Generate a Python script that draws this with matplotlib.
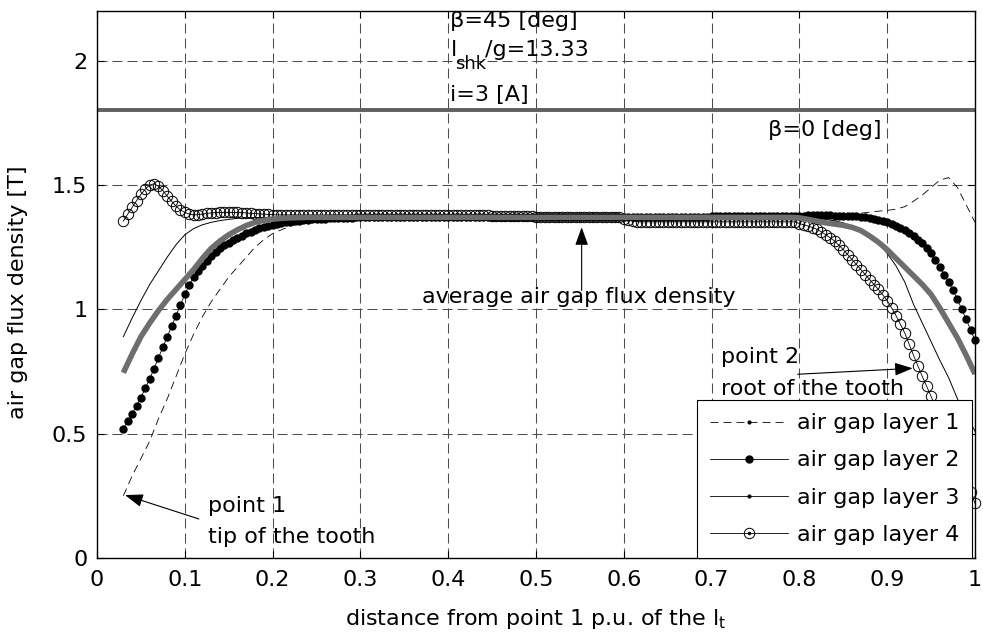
import numpy as np
import matplotlib
matplotlib.use('Agg')
import matplotlib.pyplot as plt
from matplotlib.lines import Line2D

plt.rcParams['font.family'] = ['DejaVu Sans']
plt.rcParams['mathtext.fontset'] = 'dejavusans'

# sampling positions (p.u. of tooth length)
x_pu = np.round(np.arange(3, 101) / 100.0, 2)          # 0.01 step
x_fine = np.round(np.arange(30, 1001, 5) / 1000.0, 3)  # 0.005 step (marker series)

layer1 = [0.25, 0.33, 0.40, 0.47, 0.56, 0.64, 0.73,
          0.82, 0.90, 0.97, 1.03, 1.08, 1.13, 1.17, 1.21, 1.25, 1.28,
          1.305, 1.32, 1.335, 1.345, 1.352, 1.358, 1.362, 1.365, 1.367, 1.368,
          1.369, 1.37, 1.37, 1.37, 1.37, 1.37, 1.37, 1.37, 1.37, 1.37,
          1.37, 1.37, 1.37, 1.37, 1.37, 1.37, 1.37, 1.37, 1.37, 1.37,
          1.37, 1.37, 1.37, 1.37, 1.37, 1.37, 1.37, 1.37, 1.37, 1.37,
          1.37, 1.37, 1.37, 1.37, 1.37, 1.37, 1.37, 1.37, 1.37, 1.37,
          1.37, 1.37, 1.37, 1.37, 1.37, 1.371, 1.371, 1.371, 1.372, 1.372,
          1.372, 1.373, 1.374, 1.375, 1.377, 1.38, 1.383, 1.387, 1.391, 1.395,
          1.398, 1.403, 1.413, 1.435, 1.46, 1.49, 1.52, 1.53, 1.49, 1.42,
          1.35]

layer2 = [0.52, 0.55, 0.58, 0.612, 0.645, 0.682, 0.72, 0.762, 0.805, 0.848,
          0.89, 0.932, 0.975, 1.018, 1.06, 1.098, 1.13, 1.155, 1.175, 1.196,
          1.215, 1.231, 1.245, 1.257, 1.268, 1.278, 1.288, 1.297, 1.306, 1.313,
          1.32, 1.326, 1.332, 1.337, 1.341, 1.345, 1.348, 1.351, 1.353, 1.355,
          1.357, 1.359, 1.36, 1.362, 1.363, 1.364, 1.365, 1.366, 1.367, 1.368,
          1.368, 1.369, 1.369, 1.37, 1.37, 1.37, 1.37, 1.37, 1.37, 1.37,
          1.37, 1.37, 1.37, 1.37, 1.37, 1.37, 1.37, 1.37, 1.37, 1.37,
          1.37, 1.37, 1.37, 1.37, 1.37, 1.37, 1.37, 1.37, 1.37, 1.37,
          1.37, 1.37, 1.37, 1.37, 1.37, 1.37, 1.37, 1.37, 1.37, 1.37,
          1.37, 1.37, 1.37, 1.37, 1.37, 1.37, 1.37, 1.37, 1.37, 1.37,
          1.37, 1.37, 1.37, 1.37, 1.37, 1.37, 1.37, 1.37, 1.37, 1.37,
          1.37, 1.37, 1.37, 1.37, 1.372, 1.372, 1.372, 1.372, 1.372, 1.372,
          1.372, 1.372, 1.372, 1.372, 1.372, 1.372, 1.372, 1.372, 1.372, 1.372,
          1.372, 1.372, 1.372, 1.372, 1.375, 1.375, 1.375, 1.375, 1.375, 1.375,
          1.375, 1.375, 1.375, 1.375, 1.375, 1.375, 1.375, 1.375, 1.375, 1.375,
          1.375, 1.375, 1.375, 1.375, 1.377, 1.377, 1.378, 1.378, 1.378, 1.378,
          1.378, 1.378, 1.377, 1.377, 1.376, 1.376, 1.375, 1.374, 1.373, 1.371,
          1.368, 1.364, 1.36, 1.355, 1.35, 1.343, 1.335, 1.327, 1.318, 1.307,
          1.295, 1.28, 1.265, 1.248, 1.228, 1.20, 1.17, 1.14, 1.11, 1.076,
          1.04, 1.00, 0.96, 0.918, 0.875]

layer3 = [0.89, 0.965, 1.035, 1.10, 1.155, 1.21, 1.26,
          1.30, 1.325, 1.34, 1.35, 1.357, 1.362, 1.366, 1.368, 1.369, 1.37,
          1.37, 1.37, 1.37, 1.37, 1.37, 1.37, 1.37, 1.37, 1.37, 1.37,
          1.37, 1.37, 1.37, 1.37, 1.37, 1.37, 1.37, 1.37, 1.37, 1.37,
          1.37, 1.37, 1.37, 1.37, 1.37, 1.37, 1.37, 1.37, 1.37, 1.37,
          1.37, 1.37, 1.37, 1.37, 1.37, 1.37, 1.37, 1.37, 1.37, 1.37,
          1.37, 1.37, 1.37, 1.37, 1.37, 1.37, 1.37, 1.37, 1.37, 1.37,
          1.37, 1.37, 1.37, 1.37, 1.37, 1.37, 1.37, 1.37, 1.37, 1.37,
          1.37, 1.368, 1.366, 1.362, 1.356, 1.348, 1.335, 1.315, 1.29, 1.265,
          1.225, 1.175, 1.11, 1.02, 0.945, 0.87, 0.795, 0.725, 0.64, 0.575,
          0.51]

layer4 = [1.355, 1.383, 1.41, 1.437, 1.462, 1.484, 1.50, 1.505, 1.495, 1.478,
          1.455, 1.435, 1.415, 1.40, 1.39, 1.383, 1.38, 1.381, 1.383, 1.386,
          1.388, 1.389, 1.39, 1.39, 1.39, 1.39, 1.39, 1.389, 1.388, 1.386,
          1.385, 1.384, 1.383, 1.382, 1.381, 1.38, 1.38, 1.38, 1.38, 1.38,
          1.38, 1.38, 1.38, 1.38, 1.38, 1.38, 1.38, 1.38, 1.38, 1.38,
          1.38, 1.38, 1.38, 1.38, 1.38, 1.38, 1.38, 1.38, 1.38, 1.38,
          1.38, 1.38, 1.38, 1.38, 1.38, 1.38, 1.38, 1.38, 1.38, 1.38,
          1.38, 1.38, 1.38, 1.38, 1.378, 1.378, 1.378, 1.378, 1.378, 1.378,
          1.378, 1.378, 1.378, 1.378, 1.375, 1.375, 1.375, 1.375, 1.375, 1.375,
          1.375, 1.375, 1.375, 1.375, 1.372, 1.372, 1.372, 1.372, 1.372, 1.372,
          1.372, 1.372, 1.372, 1.372, 1.372, 1.372, 1.372, 1.372, 1.372, 1.372,
          1.372, 1.372, 1.372, 1.372, 1.365, 1.36, 1.355, 1.352, 1.352, 1.352,
          1.352, 1.352, 1.352, 1.352, 1.352, 1.352, 1.352, 1.352, 1.352, 1.352,
          1.352, 1.352, 1.352, 1.352, 1.352, 1.352, 1.352, 1.352, 1.352, 1.352,
          1.352, 1.352, 1.352, 1.352, 1.352, 1.352, 1.352, 1.352, 1.352, 1.352,
          1.352, 1.352, 1.352, 1.352, 1.345, 1.34, 1.335, 1.329, 1.322, 1.312,
          1.30, 1.288, 1.275, 1.258, 1.24, 1.22, 1.20, 1.18, 1.16, 1.14,
          1.12, 1.10, 1.08, 1.058, 1.035, 1.006, 0.975, 0.94, 0.905, 0.86,
          0.815, 0.772, 0.73, 0.69, 0.65, 0.607, 0.565, 0.522, 0.48, 0.437,
          0.395, 0.352, 0.31, 0.265, 0.22]

average = [0.745, 0.82, 0.89, 0.945, 0.995, 1.04, 1.08,
           1.12, 1.16, 1.205, 1.245, 1.275, 1.30, 1.32, 1.337, 1.35, 1.358,
           1.363, 1.366, 1.368, 1.369, 1.37, 1.37, 1.37, 1.37, 1.37, 1.37,
           1.37, 1.37, 1.37, 1.37, 1.37, 1.37, 1.37, 1.37, 1.37, 1.37,
           1.37, 1.37, 1.37, 1.37, 1.37, 1.37, 1.37, 1.37, 1.37, 1.37,
           1.37, 1.37, 1.37, 1.37, 1.37, 1.37, 1.37, 1.37, 1.37, 1.37,
           1.37, 1.37, 1.37, 1.37, 1.37, 1.37, 1.37, 1.37, 1.37, 1.37,
           1.37, 1.37, 1.37, 1.37, 1.37, 1.37, 1.37, 1.37, 1.37, 1.37,
           1.368, 1.362, 1.355, 1.348, 1.343, 1.338, 1.33, 1.317, 1.295, 1.27,
           1.24, 1.205, 1.17, 1.135, 1.10, 1.06, 1.005, 0.945, 0.885, 0.815,
           0.74]

beta0_level = 1.8

legend_labels = ['air gap layer 1', 'air gap layer 2', 'air gap layer 3', 'air gap layer 4']
x_ticks = [0, 0.1, 0.2, 0.3, 0.4, 0.5, 0.6, 0.7, 0.8, 0.9, 1]
x_ticklabels = ['0', '0.1', '0.2', '0.3', '0.4', '0.5', '0.6', '0.7', '0.8', '0.9', '1']
y_ticks = [0, 0.5, 1, 1.5, 2]
y_ticklabels = ['0', '0.5', '1', '1.5', '2']

assert len(layer1) == len(x_pu) and len(layer3) == len(x_pu) and len(average) == len(x_pu)
assert len(layer2) == len(x_fine) and len(layer4) == len(x_fine)

FS = 16

fig = plt.figure(figsize=(9.83, 6.38), dpi=100)
ax = fig.add_axes([97 / 983, 80 / 638, 878 / 983, 547 / 638])

ax.axhline(beta0_level, color='#606060', lw=2.8, zorder=3)

ax.plot(x_pu, layer1, color='k', lw=0.6, linestyle=(0, (9.6, 6)), zorder=4)
ax.plot(x_fine, layer2, color='k', lw=0.6, marker='o', ms=5, mfc='k', mec='k',
        zorder=4, clip_on=False)
ax.plot(x_pu, layer3, color='k', lw=0.7, zorder=4)
ax.plot(x_fine, layer4, color='k', lw=0.6, marker='o', ms=7.5, mfc='none', mec='k',
        mew=0.7, zorder=4, clip_on=False)
ax.plot(x_pu, average, color='#6e6e6e', lw=4.0, solid_capstyle='butt', zorder=5)

ax.set_xlim(0, 1)
ax.set_ylim(0, 2.2)
ax.set_xticks(x_ticks)
ax.set_xticklabels(x_ticklabels)
ax.set_yticks(y_ticks)
ax.set_yticklabels(y_ticklabels)
ax.tick_params(direction='in', length=5, width=0.8, top=True, right=True, labelsize=FS)
ax.tick_params(axis='x', pad=9)
ax.tick_params(axis='y', pad=7)
ax.grid(True, color='0.3', lw=0.75, linestyle=(0, (9.6, 4.8)))
ax.set_axisbelow(True)
for sp in ax.spines.values():
    sp.set_linewidth(1.0)
    sp.set_zorder(10)

ax.set_xlabel('distance from point 1 p.u. of the l$_{\\mathrm{t}}$', fontsize=FS)
ax.xaxis.set_label_coords(0.5, -0.1225)
ax.xaxis.label.set_va('baseline')
ax.set_ylabel('air gap flux density [T]', fontsize=FS)
ax.yaxis.set_label_coords(-0.09, 0.486)
ax.yaxis.label.set_va('center')

# annotations
ax.text(0.4025, 2.137, '\u03b2=45 [deg]', fontsize=FS, va='baseline', ha='left', zorder=6)
ax.text(0.4025, 2.02, 'l', fontsize=FS, va='baseline', ha='left', zorder=6)
ax.text(0.408, 1.968, 'shk', fontsize=13, va='baseline', ha='left', zorder=6)
ax.text(0.4424, 2.02, '/g=13.33', fontsize=FS, va='baseline', ha='left', zorder=6)
ax.text(0.4025, 1.839, 'i=3 [A]', fontsize=FS, va='baseline', ha='left', zorder=6)
ax.text(0.764, 1.699, '\u03b2=0 [deg]', fontsize=FS, va='baseline', ha='left', zorder=6)

ax.text(0.5485, 1.048, 'average air gap flux density', fontsize=FS, va='center', ha='center', zorder=6)
ax.text(0.1266, 0.185, 'point 1', fontsize=FS, va='baseline', ha='left', zorder=6)
ax.text(0.1266, 0.060, 'tip of the tooth', fontsize=FS, va='baseline', ha='left', zorder=6)
ax.text(0.711, 0.783, 'point 2', fontsize=FS, va='baseline', ha='left', zorder=6)
ax.text(0.711, 0.655, 'root of the tooth', fontsize=FS, va='baseline', ha='left', zorder=6)

arrow_kw = dict(arrowstyle='-|>,head_length=0.55,head_width=0.2', color='k', lw=0.8,
                shrinkA=0, shrinkB=0, mutation_scale=20)
ax.annotate('', xy=(0.552, 1.33), xytext=(0.552, 1.076), arrowprops=arrow_kw, zorder=6)
ax.annotate('', xy=(0.032, 0.253), xytext=(0.116, 0.157), arrowprops=arrow_kw, zorder=6)
ax.annotate('', xy=(0.929, 0.763), xytext=(0.798, 0.739), arrowprops=arrow_kw, zorder=6)

# legend
h1 = Line2D([], [], color='k', lw=0.6, linestyle=(0, (9.6, 6)), marker='.', ms=4)
h2 = Line2D([], [], color='k', lw=0.6, marker='o', ms=5)
h3 = Line2D([], [], color='k', lw=0.6, marker='.', ms=4)
h4 = (Line2D([], [], color='k', lw=0.6, marker='o', ms=7.5, mfc='none', mew=0.7),
      Line2D([], [], ls='none', marker='.', ms=3, color='k'))
leg = ax.legend([h1, h2, h3, h4], legend_labels, loc='lower right',
                bbox_to_anchor=(0.997, 0.0), borderaxespad=0, frameon=True,
                fancybox=False, edgecolor='k', framealpha=1, fontsize=FS,
                handlelength=3.5, handletextpad=0.4, labelspacing=0.77,
                borderpad=0.6, numpoints=1)
leg.get_frame().set_linewidth(0.8)
leg.set_zorder(20)

fig.savefig('out.png', dpi=100)
